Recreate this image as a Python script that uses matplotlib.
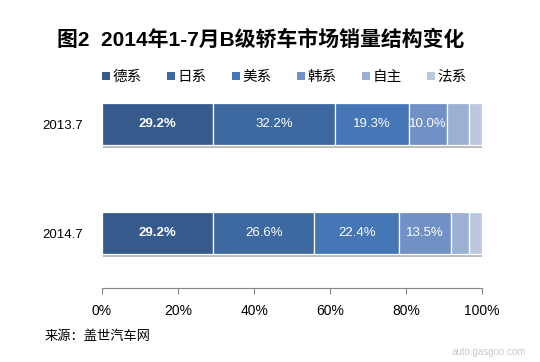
import matplotlib
matplotlib.use("Agg")
import matplotlib.pyplot as plt
import matplotlib.patheffects as pe
from matplotlib.patches import Patch
import numpy as np

plt.rcParams['font.family'] = ['Liberation Sans', 'Noto Sans CJK SC', 'DejaVu Sans']

years = ['2013.7', '2014.7']
series = ['德系', '日系', '美系', '韩系', '自主', '法系']
values = [
    [29.2, 29.2],   # 德系
    [32.2, 26.6],   # 日系
    [19.3, 22.4],   # 美系
    [10.0, 13.5],   # 韩系
    [5.8, 4.7],     # 自主
    [3.5, 3.6],     # 法系
]
shown = [True, True, True, True, False, False]
colors = ['#375a8c', '#3d68a0', '#4576b6', '#7190c5', '#9bb0d3', '#bcc8de']
xticks = [0, 20, 40, 60, 80, 100]

fig = plt.figure(figsize=(5.4, 3.62), dpi=100)
ax = fig.add_axes([0.189, 0.2053, 0.704, 0.6022])

ypos = np.array([1.5, 0.5])
left = np.zeros(len(years))
shadow = [pe.SimplePatchShadow(offset=(0.5, -1.8), shadow_rgbFace='#808080', alpha=0.55), pe.Normal()]
for i, name in enumerate(series):
    v = np.array(values[i])
    bars = ax.barh(ypos, v, left=left, height=0.39, color=colors[i],
                   edgecolor='white', linewidth=0.9, label=name)
    for b in bars:
        b.set_path_effects(shadow)
    if shown[i]:
        for j in range(len(years)):
            ax.text(left[j] + v[j] / 2, ypos[j], '%.1f%%' % v[j], ha='center', va='center',
                    color='white', fontsize=9.5, fontweight='bold' if i == 0 else 'normal')
    left += v

ax.set_xlim(0, 100)
ax.set_ylim(0, 2)
ax.set_yticks(ypos)
ax.set_yticklabels(years, fontsize=9.5)
ax.set_xticks(xticks)
ax.set_xticklabels(['%d%%' % t for t in xticks], fontsize=10)
for s in ['top', 'right', 'left']:
    ax.spines[s].set_visible(False)
ax.spines['bottom'].set_color('#868686')
ax.tick_params(axis='y', length=0, pad=14)
ax.tick_params(axis='x', direction='out', length=4.5, color='#868686', pad=7)

handles = [Patch(facecolor=c, edgecolor='none') for c in colors]
fig.legend(handles, series, loc='center', bbox_to_anchor=(0.527, 0.787), ncol=6, frameon=False,
           fontsize=10.5, handlelength=0.5, handleheight=0.5, handletextpad=0.2, columnspacing=1.75)

fig.text(0.482, 0.89, '图2  2014年1-7月B级轿车市场销量结构变化', ha='center', va='center',
         fontsize=15, fontweight='bold')
fig.text(0.083, 0.07, '来源：盖世汽车网', ha='left', va='center', fontsize=9.5)
fig.text(0.975, 0.028, 'auto.gasgoo.com', ha='right', va='center', fontsize=7, color='#c8c8c8')

fig.savefig('out.png', dpi=100)
